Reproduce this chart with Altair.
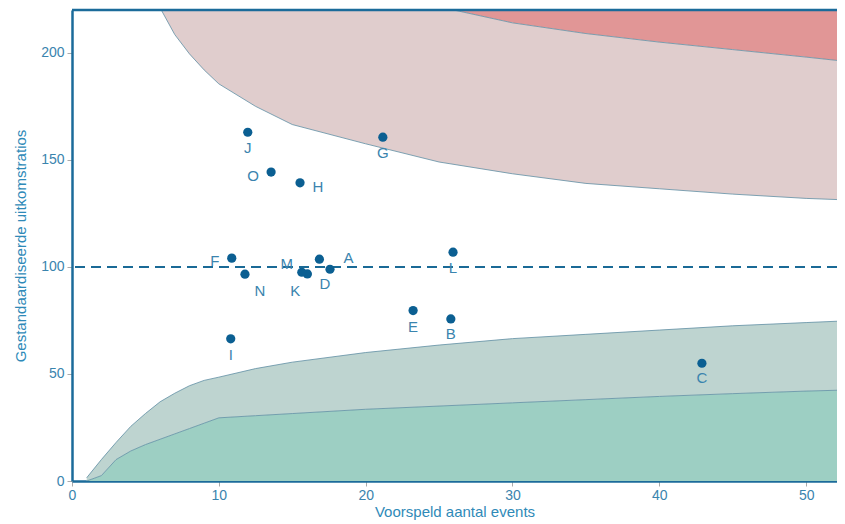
import altair as alt
import pandas as pd

# ---- data ----
labels = ["A", "B", "C", "D", "E", "F", "G", "H", "I", "J", "K", "L", "M", "N", "O"]
expected = [16.85, 25.8, 42.9, 17.57, 23.23, 10.88, 21.17, 15.53, 10.81, 11.97, 16.03, 25.95, 15.65, 11.78, 13.56]
ratio = [103.6, 75.7, 55.0, 98.9, 79.6, 104.1, 160.6, 139.3, 66.4, 162.9, 96.7, 106.9, 97.5, 96.6, 144.3]

grid_x = [1, 2, 3, 4, 5, 6, 7, 8, 9, 10, 12.5, 15, 20, 25, 30, 35, 40, 45, 50, 52.7]
upper_95 = [400, 320, 280, 255, 235, 221, 208.5, 199.5, 192, 185.5, 175, 166.5, 157.5, 149, 143.5, 139, 136.5, 134, 132, 131.3]
upper_998 = [600, 500, 450, 420, 390, 370, 350, 330, 310, 290, 270, 255, 235, 221.5, 214, 209, 205, 201.5, 198, 196]
lower_95 = [1.5, 10, 18, 25.5, 31.5, 37, 41, 44.5, 47, 48.5, 52.5, 55.5, 60, 63.5, 66.5, 68.5, 70.5, 72.5, 74, 74.8]
lower_998 = [0, 2.5, 10, 14, 17, 19.5, 22, 24.5, 27, 29.5, 30.5, 31.5, 33.5, 35, 36.5, 38, 39.5, 40.8, 42, 42.5]

target = 100
y_top = 220
x_max = 52.1

# ---- label placement (style, pixel offsets dx, dy) ----
label_offsets = {
    "J": (0, 16), "G": (0, 16), "L": (0, 16), "E": (0, 16), "B": (0, 15),
    "I": (0, 16), "C": (0, 15), "D": (-5, 15), "K": (-12, 17), "N": (15, 17),
    "O": (-18, 4), "F": (-17, 3), "H": (18, 4), "A": (29, -1), "M": (-15, -8),
}

pts = pd.DataFrame({"label": labels, "expected": expected, "ratio": ratio})
bands = pd.DataFrame({
    "x": grid_x, "u95": upper_95, "u998": upper_998,
    "l95": lower_95, "l998": lower_998, "top": [y_top] * len(grid_x), "zero": [0] * len(grid_x),
})

AX = "#1b6b9a"
TXT = "#3a84ae"
DOT = "#0b5f92"
EDGE = "#5f8ea3"

xs = alt.Scale(domain=[0, x_max], nice=False, zero=False)
ys = alt.Scale(domain=[0, y_top], nice=False)

x_enc = alt.X("x:Q", scale=xs, title="Voorspeld aantal events",
              axis=alt.Axis(values=[0, 10, 20, 30, 40, 50], grid=False, labelFlush=False))
y_enc_axis = alt.Axis(values=[0, 50, 100, 150, 200], grid=False, labelFlush=False)

base = alt.Chart(bands)

def area(lo, hi, color):
    return base.mark_area(color=color, opacity=1, clip=True, interpolate="linear").encode(
        x=x_enc,
        y=alt.Y(f"{lo}:Q", scale=ys, title="Gestandaardiseerde uitkomstratios", axis=y_enc_axis),
        y2=alt.Y2(f"{hi}:Q"),
    )

def edge(col):
    return base.mark_line(color=EDGE, strokeWidth=0.8, clip=True).encode(
        x=alt.X("x:Q", scale=xs), y=alt.Y(f"{col}:Q", scale=ys))

red_band = area("u998", "top", "#e19696")
pink_band = area("u95", "u998", "#e0cdcd")
grey_band = area("l998", "l95", "#bed4d0")
teal_band = area("zero", "l998", "#9dcfc3")

ref_line = alt.Chart(pd.DataFrame({"y": [target]})).mark_rule(
    color="#1a6a96", strokeWidth=2, strokeDash=[10, 6]).encode(y=alt.Y("y:Q", scale=ys))

top_line = alt.Chart(pd.DataFrame({"y": [y_top]})).mark_rule(
    color=AX, strokeWidth=2.5).encode(y=alt.Y("y:Q", scale=ys))

dots = alt.Chart(pts).mark_circle(size=85, color=DOT, opacity=1).encode(
    x=alt.X("expected:Q", scale=xs), y=alt.Y("ratio:Q", scale=ys))

text_layers = []
groups = {}
for lab, off in label_offsets.items():
    groups.setdefault(off, []).append(lab)
for (dx, dy), labs in groups.items():
    sub = pts[pts["label"].isin(labs)]
    text_layers.append(
        alt.Chart(sub).mark_text(dx=dx, dy=dy, fontSize=15, color=TXT, font="Liberation Sans",
                                 align="center", baseline="middle").encode(
            x=alt.X("expected:Q", scale=xs), y=alt.Y("ratio:Q", scale=ys), text="label:N")
    )

chart = alt.layer(
    red_band, pink_band, grey_band, teal_band,
    edge("u998"), edge("u95"), edge("l95"), edge("l998"),
    ref_line, top_line, dots, *text_layers,
).properties(
    width=765, height=471,
    autosize=alt.AutoSizeParams(type="none"),
    padding={"left": 64, "top": 2, "right": 0, "bottom": 43},
).configure_view(stroke=None).configure_axis(
    domainColor=AX, domainWidth=2.5, tickColor="#aaaaaa", tickSize=5, tickWidth=1,
    labelColor=TXT, labelFontSize=14, labelFont="Liberation Sans",
    titleColor="#2f8ab8", titleFontSize=15, titleFont="Liberation Sans", titleFontWeight="normal",
).configure_axisY(titlePadding=12, labelPadding=3).configure_axisX(titlePadding=2, labelPadding=2)

chart.save("out.html", embed_options={"renderer": "svg", "actions": False})
